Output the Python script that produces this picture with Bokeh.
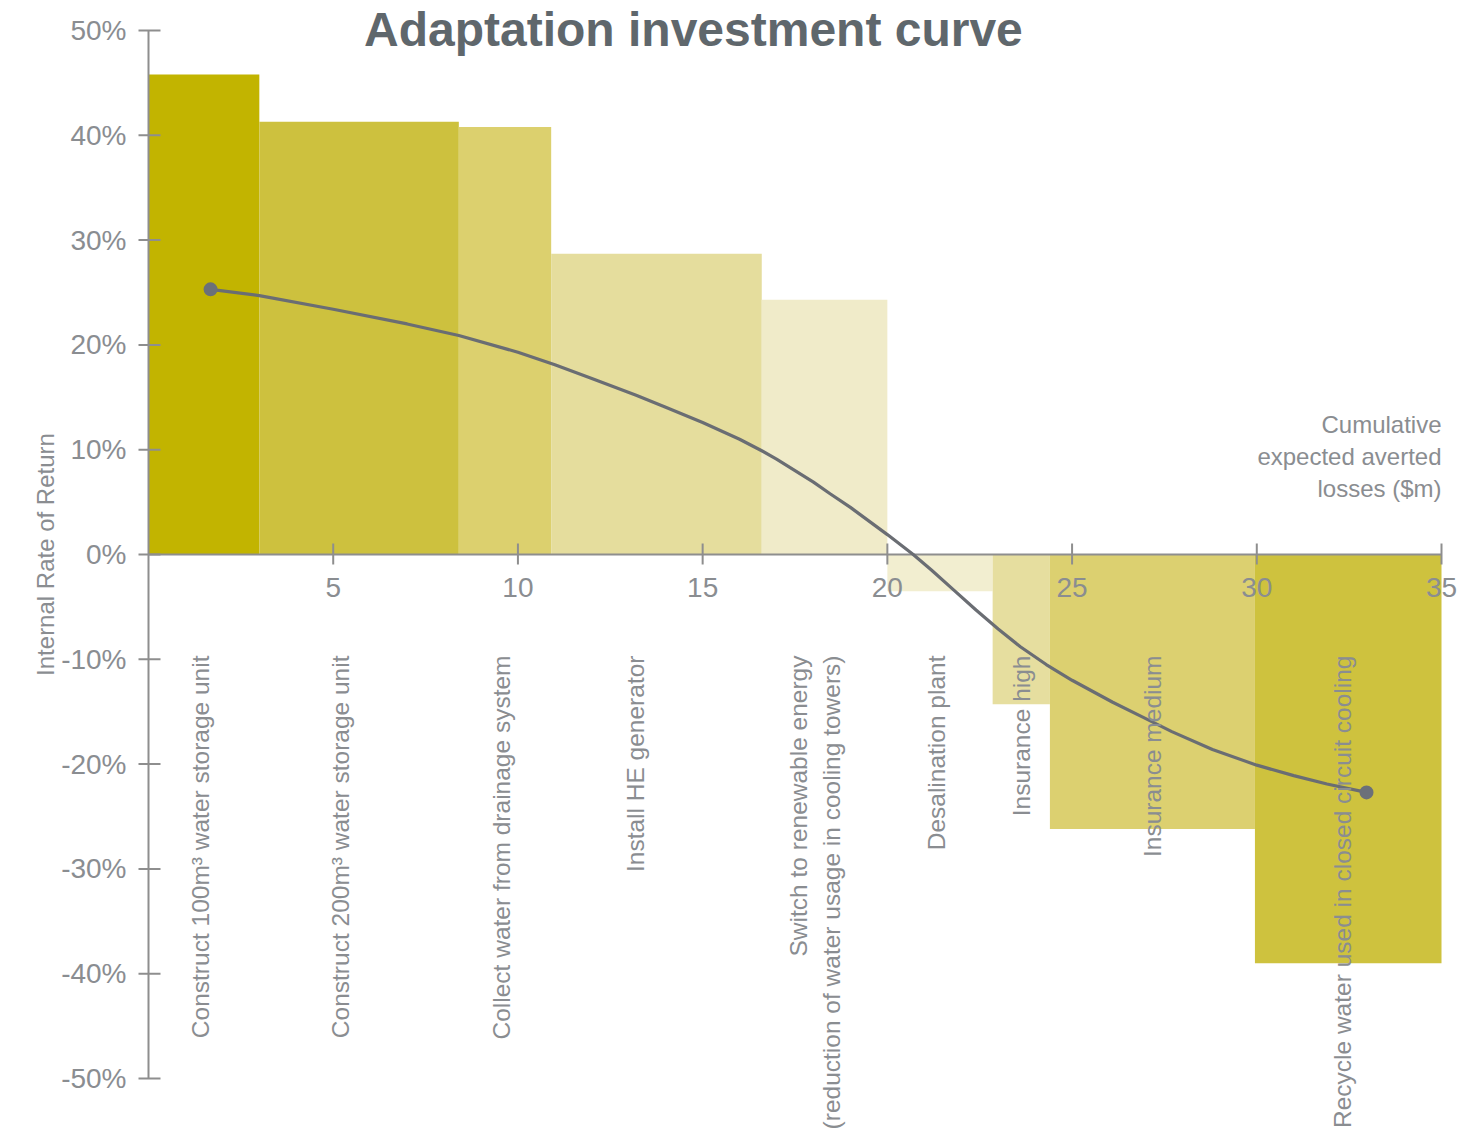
import numpy as np
from math import pi
from bokeh.plotting import figure
from bokeh.models import ColumnDataSource
from bokeh.core.properties import value
from bokeh.embed import file_html
from bokeh.resources import INLINE

# ---------------- data ----------------
title_text = "Adaptation investment curve"
measures = [
    "Construct 100m\u00b3 water storage unit",
    "Construct 200m\u00b3 water storage unit",
    "Collect water from drainage system",
    "Install HE generator",
    "Switch to renewable energy\n(reduction of water usage in cooling towers)",
    "Desalination plant",
    "Insurance high",
    "Insurance medium",
    "Recycle water used in closed circuit cooling",
]
averted_losses = [3.0, 5.4, 2.5, 5.7, 3.4, 2.85, 1.55, 5.55, 5.05]   # $m per measure (bar widths)
irr_pct = [45.8, 41.3, 40.8, 28.7, 24.3, -3.5, -14.3, -26.2, -39.0]  # Internal Rate of Return, %
curve_x = [1.68, 3.0, 5.0, 7.0, 8.4, 10.0, 11.0, 12.0, 13.2, 14.0, 15.0, 16.0, 16.6,
           17.0, 18.0, 18.45, 19.0, 20.0, 20.7, 21.2, 21.8, 22.4, 23.0, 23.6, 24.3,
           25.0, 26.1, 26.9, 27.7, 28.8, 30.0, 31.0, 31.9, 32.97]
curve_y = [25.3, 24.7, 23.4, 22.0, 20.9, 19.3, 18.1, 16.8, 15.2, 14.05, 12.6, 11.0, 9.9,
           9.1, 6.9, 5.8, 4.5, 1.9, 0.0, -1.5, -3.4, -5.3, -7.1, -8.8, -10.5,
           -12.0, -14.1, -15.5, -16.9, -18.6, -20.1, -21.1, -21.9, -22.7]
x_ticks = [5, 10, 15, 20, 25, 30, 35]
y_ticks = [-50, -40, -30, -20, -10, 0, 10, 20, 30, 40, 50]
y_tick_labels = [f"{v}%" for v in y_ticks]
x_axis_title = "Cumulative\nexpected averted\nlosses ($m)"
y_axis_title = "Internal Rate of Return"

# ---------------- style / layout ----------------
bar_colors = ["#C2B400", "#CDC13E", "#DCD06E", "#E5DD9D", "#F0EBC9",
              "#F2EED0", "#E6DE9F", "#DCD070", "#CEC23E"]
label_shift = [-0.1, -0.5, -0.1, -0.57, -0.27, -0.1, 0.0, 0.0, -0.15]
FONT = "Liberation Sans"
GREY = "#8a8d91"
AXIS = "#8e8e8e"
W, H = 1460, 1144
FRAME_LEFT = 148            # pixel column of the vertical axis
PX_X = 1293 / 35.0          # pixels per $m
PX_Y = 1048 / 100.0         # pixels per percentage point
TOP_PX = 30                 # pixel row of the 50% tick

def dx(px):
    return px / PX_X

def dy(px):
    return px / PX_Y

x_start = -dx(FRAME_LEFT)
x_end = dx(W - FRAME_LEFT)
y_top = 50 + dy(TOP_PX)
y_bot = 50 - dy(H - TOP_PX)

right = list(np.cumsum(averted_losses))
left = [0.0] + right[:-1]
centre = [(l + r) / 2 for l, r in zip(left, right)]

bars = ColumnDataSource(dict(left=left, right=right, top=irr_pct,
                             bottom=[0] * len(irr_pct), color=bar_colors))

p = figure(width=W, height=H, x_range=(x_start, x_end), y_range=(y_bot, y_top),
           x_axis_type=None, y_axis_type=None,
           output_backend="svg", toolbar_location=None,
           min_border_left=0, min_border_right=0,
           min_border_top=0, min_border_bottom=0)
p.outline_line_color = None
p.grid.visible = False
p.background_fill_color = "white"
p.border_fill_color = "white"

p.quad(left="left", right="right", top="top", bottom="bottom",
       fill_color="color", line_color=None, source=bars)

# horizontal axis at 0%
p.segment(x0=[0], y0=[0], x1=[x_ticks[-1]], y1=[0], line_color=AXIS, line_width=2)
p.segment(x0=x_ticks, y0=[dy(11)] * len(x_ticks), x1=x_ticks,
          y1=[-dy(10)] * len(x_ticks), line_color=AXIS, line_width=2)
p.text(x=x_ticks, y=[-dy(33)] * len(x_ticks), text=[str(t) for t in x_ticks],
       text_align="center", text_baseline="middle", text_font=value(FONT),
       text_font_size="28px", text_color=GREY)

# vertical axis at 0 $m
p.segment(x0=[0], y0=[y_ticks[0]], x1=[0], y1=[y_ticks[-1]], line_color=AXIS, line_width=2)
p.segment(x0=[-dx(10)] * len(y_ticks), y0=y_ticks, x1=[dx(12)] * len(y_ticks),
          y1=y_ticks, line_color=AXIS, line_width=2)
p.text(x=[-dx(22)] * len(y_ticks), y=y_ticks, text=y_tick_labels,
       text_align="right", text_baseline="middle", text_font=value(FONT),
       text_font_size="28px", text_color=GREY)
p.text(x=[-dx(103)], y=[0], text=[y_axis_title], angle=pi / 2,
       text_align="center", text_baseline="middle", text_font=value(FONT),
       text_font_size="24px", text_color=GREY)

# curve and end points
p.line(curve_x, curve_y, line_color="#6a6d73", line_width=3.2)
p.scatter([curve_x[0], curve_x[-1]], [curve_y[0], curve_y[-1]],
          size=14, fill_color="#6b7079", line_color=None)

# measure labels (rotated, reading upwards, top-aligned just below the axis)
lab_src = ColumnDataSource(dict(
    x=[c + s for c, s in zip(centre, label_shift)],
    y=[-dy(101)] * len(measures),
    text=measures))
p.text(x="x", y="y", text="text", source=lab_src, angle=pi / 2,
       text_align="right", text_baseline="middle",
       text_font=value(FONT), text_font_size="24.5px", text_color=GREY,
       text_line_height=1.22)

# title and horizontal-axis caption
p.text(x=[14.75], y=[50 + dy(1)], text=[title_text], text_align="center",
       text_baseline="alphabetic", text_font=value(FONT),
       text_font_size="48px", text_font_style="bold", text_color="#5f676c")
p.text(x=[x_ticks[-1]], y=[dy(144)], text=[x_axis_title], text_align="right",
       text_baseline="top", text_font=value(FONT), text_font_size="24px",
       text_color=GREY, text_line_height=1.2)

open("out.html", "w").write(file_html(p, INLINE))
